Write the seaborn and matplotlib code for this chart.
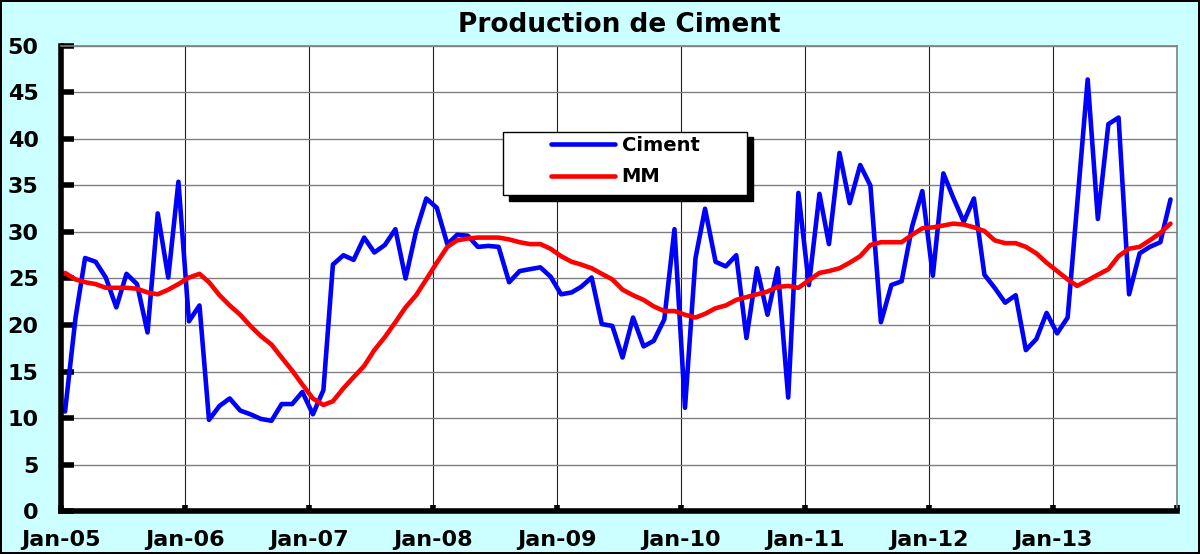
import pandas as pd
import matplotlib.pyplot as plt
import matplotlib.patches as mpatches
import seaborn as sns

# Production mensuelle de ciment, janvier 2005 - decembre 2013
ciment = [10.7, 20.8, 27.2, 26.8, 25.1, 21.9, 25.5, 24.4, 19.2, 32.0, 25.1, 35.4,
          20.4, 22.1, 9.8, 11.3, 12.1, 10.8, 10.4, 9.9, 9.7, 11.5, 11.5, 12.8,
          10.4, 13.0, 26.5, 27.5, 27.0, 29.4, 27.8, 28.6, 30.3, 25.0, 30.1, 33.6,
          32.6, 28.7, 29.7, 29.6, 28.4, 28.5, 28.4, 24.6, 25.8, 26.0, 26.2, 25.2,
          23.3, 23.5, 24.1, 25.1, 20.1, 19.9, 16.5, 20.8, 17.7, 18.3, 20.6, 30.3,
          11.1, 27.2, 32.5, 26.8, 26.3, 27.5, 18.6, 26.1, 21.1, 26.1, 12.2, 34.2,
          24.3, 34.1, 28.7, 38.5, 33.1, 37.2, 35.0, 20.3, 24.3, 24.7, 30.6, 34.4,
          25.3, 36.3, 33.7, 31.1, 33.6, 25.4, 24.0, 22.4, 23.2, 17.3, 18.5, 21.3,
          19.1, 20.8, 32.9, 46.4, 31.4, 41.6, 42.3, 23.3, 27.7, 28.4, 28.9, 33.5]

# Moyenne mobile
mm = [25.6, 24.9, 24.6, 24.4, 24.0, 24.0, 24.0, 23.9, 23.5, 23.3, 23.8, 24.4,
      25.1, 25.5, 24.6, 23.2, 22.1, 21.1, 19.9, 18.8, 17.9, 16.5, 15.1, 13.6,
      12.1, 11.4, 11.8, 13.2, 14.4, 15.6, 17.3, 18.7, 20.3, 21.9, 23.2, 24.9,
      26.7, 28.4, 29.1, 29.3, 29.4, 29.4, 29.4, 29.2, 28.9, 28.7, 28.7, 28.2,
      27.4, 26.8, 26.5, 26.1, 25.5, 24.9, 23.8, 23.2, 22.7, 22.0, 21.5, 21.5,
      21.1, 20.8, 21.2, 21.8, 22.1, 22.7, 23.0, 23.3, 23.6, 24.1, 24.2, 24.0,
      24.8, 25.6, 25.8, 26.1, 26.7, 27.4, 28.6, 28.9, 28.9, 28.9, 29.7, 30.4,
      30.5, 30.7, 30.9, 30.8, 30.5, 30.1, 29.1, 28.8, 28.8, 28.4, 27.7, 26.7,
      25.8, 24.9, 24.2, 24.8, 25.4, 26.0, 27.4, 28.2, 28.4, 29.1, 29.9, 30.9]

dates = pd.date_range('2005-01-01', periods=len(ciment), freq='MS') + pd.Timedelta(days=12)
df = pd.DataFrame({'date': dates, 'Ciment': ciment, 'MM': mm})

sns.set_style('white')
plt.rcParams['font.family'] = ['DejaVu Sans']
plt.rcParams['text.color'] = 'black'
plt.rcParams['xtick.color'] = 'black'
plt.rcParams['ytick.color'] = 'black'

fig = plt.figure(figsize=(12, 5.54), dpi=100)
fig.patch.set_facecolor('#CCFFFF')
fig.patch.set_edgecolor('black')
fig.patch.set_linewidth(1.5)
ax = fig.add_axes([0.0508, 0.0776, 0.930, 0.8394])
ax.set_facecolor('white')

sns.lineplot(data=df, x='date', y='Ciment', color='#0000FF', linewidth=3.3, label='Ciment', ax=ax)
sns.lineplot(data=df, x='date', y='MM', color='#FF0000', linewidth=3.3, label='MM', ax=ax)

ax.set_xlim(pd.Timestamp('2005-01-01'), pd.Timestamp('2014-01-01'))
ax.set_ylim(0, 50)
ax.set_yticks(range(0, 51, 5))
years = pd.date_range('2005-01-01', '2014-01-01', freq='YS')
ax.set_xticks(years)
ax.set_xticklabels([d.strftime('%b-%y') for d in years[:-1]] + [''])

ax.grid(axis='y', color='#808080', linewidth=1)
ax.grid(axis='x', color='#202020', linewidth=0.8)
ax.set_axisbelow(True)

for s in ['top', 'right']:
    ax.spines[s].set_color('#808080')
    ax.spines[s].set_linewidth(1.2)
for s in ['left', 'bottom']:
    ax.spines[s].set_color('black')
    ax.spines[s].set_linewidth(4)

ax.tick_params(axis='y', direction='in', length=9, width=4,
               labelsize=16, pad=16, left=True)
ax.tick_params(axis='x', direction='in', length=4, width=4,
               labelsize=16, pad=14, bottom=True)
for lab in ax.get_xticklabels() + ax.get_yticklabels():
    lab.set_fontweight('bold')

ax.set_xlabel('')
ax.set_ylabel('')
fig.text(0.516, 0.954, 'Production de Ciment', ha='center', va='center',
         fontsize=19, fontweight='bold')

# cadre de la legende avec ombre
x0, y0, w, h = 0.3963, 0.679, 0.2187, 0.137
ax.add_patch(mpatches.Rectangle((x0 + 0.0054, y0 - 0.0114), w, h, transform=ax.transAxes,
                                facecolor='black', edgecolor='black', clip_on=False, zorder=5))
ax.add_patch(mpatches.Rectangle((x0, y0), w, h, transform=ax.transAxes,
                                facecolor='white', edgecolor='black', linewidth=1,
                                clip_on=False, zorder=6))

leg = ax.legend(loc='center left', bbox_to_anchor=(0.4388, 0.7525), frameon=False,
                borderpad=0, borderaxespad=0, handlelength=3.3, handletextpad=0.35,
                labelspacing=0.65, prop={'weight': 'bold', 'size': 14})
leg.set_zorder(7)

fig.savefig('out.png', dpi=100, facecolor=fig.get_facecolor(), edgecolor=fig.get_edgecolor())
